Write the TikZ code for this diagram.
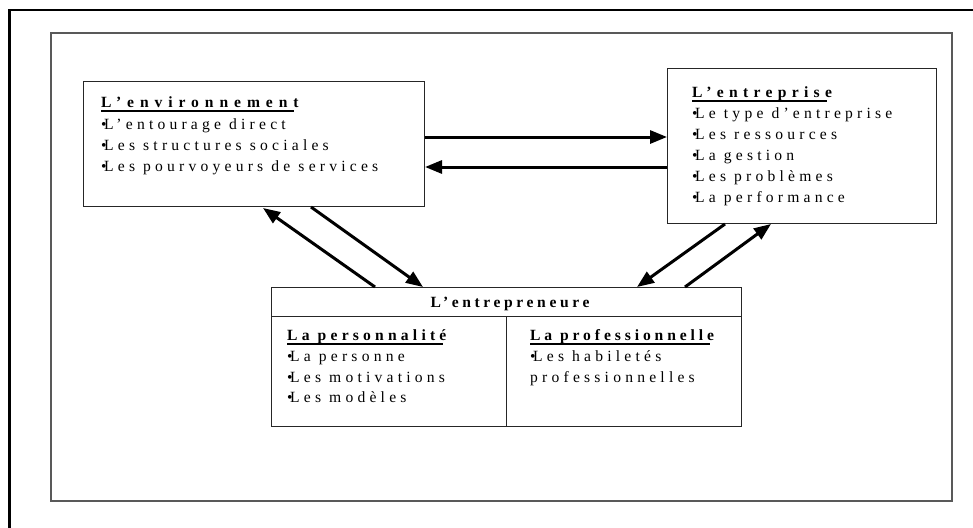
\documentclass[tikz,border=0pt]{standalone}
\usepackage{fontspec}
\setmainfont{Liberation Serif}
\newfontfamily\bodyf[LetterSpace=27]{Liberation Serif}
\usetikzlibrary{arrows.meta}
\newcommand{\bul}{•\kern-2.5pt}
\begin{document}
\begin{tikzpicture}[x=1pt,y=-1pt,
  box/.style={draw=black!85,line width=1pt,rectangle,inner sep=0pt,anchor=north west},
  txt/.style={inner sep=0pt,anchor=base west,font=\fontsize{15.6}{18}\selectfont\bodyf},
  hd/.style={inner sep=0pt,anchor=base west,font=\fontsize{15.6}{18}\selectfont\bfseries\addfontfeatures{LetterSpace=#1}},
  arr/.style={line width=3pt,-{Triangle[length=17pt,width=13pt]}},
  ul/.style={line width=1.7pt}]
\useasboundingbox (0,0) rectangle (973,527);
% outer frame
\draw[line width=2.2pt] (9.5,530) -- (9.5,10) -- (980,10);
% inner frame
\draw[line width=1.4pt,draw=black!65] (51,33) rectangle (952,501);
% boxes
\node[box,minimum width=341pt,minimum height=125pt] (env) at (83,81) {};
\node[box,minimum width=269pt,minimum height=155pt] (firm) at (667,68) {};
\node[box,minimum width=470pt,minimum height=139pt] (ent) at (271,287) {};
\node[box,minimum width=470pt,minimum height=29pt] (enthead) at (271,287) {};
\draw[draw=black!85,line width=1pt] ([xshift=235pt]enthead.south west) -- ([xshift=235pt]ent.south west);
% environment text
\node[hd=38] (envh) at (101,107) {L’environnement};
\draw[ul] ([yshift=-4pt]envh.base west) -- ([yshift=-4pt,xshift=-5pt]envh.base east);
\node[txt] (e1) at (101,129) {\bul L’entourage direct};
\node[txt] (e2) at (101,150) {\bul Les structures sociales};
\node[txt] (e3) at (101,171) {\bul Les pourvoyeurs de services};
% firm text
\node[hd=34] (firmh) at (692,97) {L’entreprise};
\draw[ul] ([yshift=-4pt]firmh.base west) -- ([yshift=-4pt,xshift=-5pt]firmh.base east);
\node[txt] (f1) at (692,118) {\bul Le type d’entreprise};
\node[txt] (f2) at (692,139) {\bul Les ressources};
\node[txt] (f3) at (692,160) {\bul La gestion};
\node[txt] (f4) at (692,181) {\bul Les problèmes};
\node[txt] (f5) at (692,202) {\bul La performance};
% entrepreneure text
\node[hd=23,anchor=base] (enth) at (510,307) {L’entrepreneure};
\node[hd=27] (ph) at (287,340) {La personnalité};
\draw[ul] ([yshift=-4pt]ph.base west) -- ([yshift=-4pt,xshift=-4pt]ph.base east);
\node[txt] (p1) at (287,361) {\bul La personne};
\node[txt] (p2) at (287,382) {\bul Les motivations};
\node[txt] (p3) at (287,402) {\bul Les modèles};
\node[hd=25] (qh) at (530,340) {La professionnelle};
\draw[ul] ([yshift=-4pt]qh.base west) -- ([yshift=-4pt,xshift=-4pt]qh.base east);
\node[txt] (q1) at (530,361) {\bul Les habiletés};
\node[txt] (q2) at (530,382) {professionnelles};
% arrows
\draw[arr] ([yshift=-56pt]env.north east) -- ([yshift=-56pt]env.north east -| firm.west);
\draw[arr] ([yshift=-86pt]env.north east -| firm.west) -- ([yshift=-86pt]env.north east);
\draw[arr] ([xshift=104pt]ent.north west) -- ([xshift=180pt,yshift=-1pt]env.south west);
\draw[arr] ([xshift=228pt]env.south west) -- ([xshift=152pt]ent.north west);
\draw[arr] ([xshift=58pt]firm.south west) -- ([xshift=366pt]ent.north west);
\draw[arr] ([xshift=414pt]ent.north west) -- ([xshift=104pt]firm.south west);
\end{tikzpicture}
\end{document}
